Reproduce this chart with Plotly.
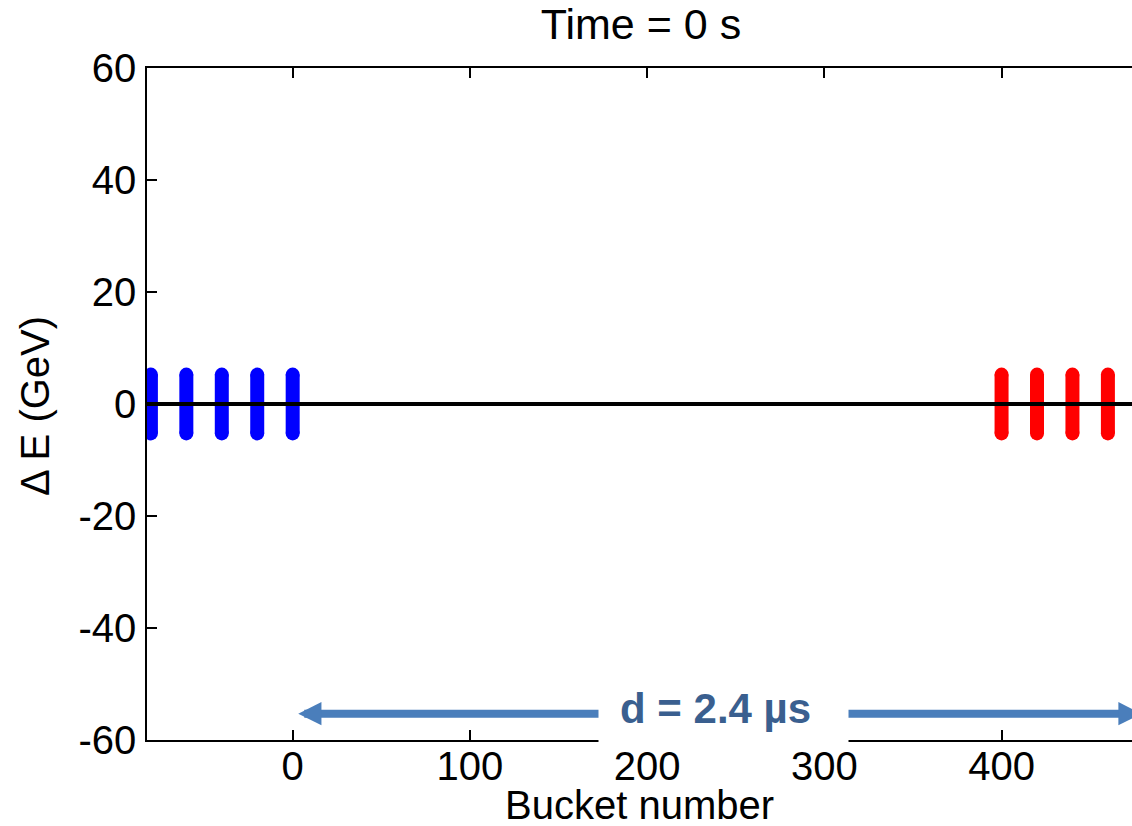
import plotly.graph_objects as go

# ---- data ----
blue_buckets = [-80, -60, -40, -20, 0]
red_buckets = [400, 420, 440, 460]
bunch_half_height = 5.25          # GeV
beam_line_x = [-90, 490]
beam_line_y = [0, 0]
x_ticks = [0, 100, 200, 300, 400]
x_ticktext = ["0", "100", "200", "300", "400"]
y_ticks = [-60, -40, -20, 0, 20, 40, 60]
y_ticktext = ["-60", "-40", "-20", "0", "20", "40", "60"]
x_range = [-82.2, 473.6]
y_range = [-60, 60]
arrow_y = -55.3
arrow_left = 2.3
arrow_right = 479
label_text = "d = 2.4 µs"

FONT = "Liberation Sans, Arial, sans-serif"


def bunch_xy(centers, h):
    xs, ys = [], []
    for c in centers:
        xs += [c, c, None]
        ys += [-h, h, None]
    return xs, ys


fig = go.Figure()
for centers, col in [(blue_buckets, "#0000FF"), (red_buckets, "#FF0000")]:
    xs, ys = bunch_xy(centers, bunch_half_height)
    fig.add_trace(go.Scatter(
        x=xs, y=ys, mode="lines+markers",
        line=dict(color=col, width=14),
        marker=dict(color=col, size=14, line=dict(width=0)),
        hoverinfo="skip", showlegend=False))

fig.add_trace(go.Scatter(x=beam_line_x, y=beam_line_y, mode="lines",
                         line=dict(color="black", width=4),
                         hoverinfo="skip", showlegend=False))

# double arrow
fig.add_annotation(x=arrow_right, y=arrow_y, ax=arrow_left, ay=arrow_y,
                   xref="x", yref="y", axref="x", ayref="y",
                   text="", showarrow=True, arrowhead=2, arrowside="end+start",
                   arrowwidth=8, arrowsize=0.58, arrowcolor="#4A7EBB",
                   standoff=0, startstandoff=0)
# white label box (covers arrow and axis line)
fig.add_annotation(x=(723.5 - 147) / 985, y=(740 - 711) / 672, xref="paper", yref="paper",
                   text=" ", showarrow=False, bgcolor="white", width=249, height=62,
                   borderpad=0, xanchor="center", yanchor="middle")
# label text
fig.add_annotation(x=(715 - 147) / 985, y=(740 - 708) / 672, xref="paper", yref="paper",
                   text="<b>%s</b>" % label_text, showarrow=False,
                   xanchor="center", yanchor="middle",
                   font=dict(family=FONT, size=42, color="#3A5F8F"))

# axis titles
fig.add_annotation(x=(639 - 147) / 985, y=(740 - 805) / 672, xref="paper", yref="paper",
                   text="Bucket number", showarrow=False, xanchor="center", yanchor="middle",
                   font=dict(family=FONT, size=40, color="black"))
fig.add_annotation(x=(35 - 147) / 985, y=(740 - 406) / 672, xref="paper", yref="paper",
                   text="Δ E (GeV)", showarrow=False, textangle=-90,
                   xanchor="center", yanchor="middle",
                   font=dict(family=FONT, size=40, color="black"))

fig.update_layout(
    width=1132, height=826,
    margin=dict(l=147, r=0, t=68, b=86, autoexpand=False),
    paper_bgcolor="white", plot_bgcolor="white",
    font=dict(family=FONT, size=40, color="black"),
    title=dict(text="Time = 0 s", x=641 / 1132, xanchor="center", y=1 - 24 / 826,
               yanchor="middle", font=dict(family=FONT, size=43, color="black")),
)
fig.update_xaxes(range=x_range, tickvals=x_ticks, ticktext=x_ticktext, ticks="inside",
                 ticklen=10, tickwidth=1.5, tickcolor="black", showline=True,
                 linecolor="black", linewidth=1.5, mirror="ticks", showgrid=False,
                 zeroline=False, automargin=False, ticklabelstandoff=-10,
                 tickfont=dict(size=40))
fig.update_yaxes(range=y_range, tickvals=y_ticks, ticktext=y_ticktext, ticks="inside",
                 ticklen=10, tickwidth=1.5, tickcolor="black", showline=True,
                 linecolor="black", linewidth=1.5, mirror=False, showgrid=False,
                 zeroline=False, automargin=False, ticklabelstandoff=1,
                 tickfont=dict(size=40))

fig.write_html("out.html")
